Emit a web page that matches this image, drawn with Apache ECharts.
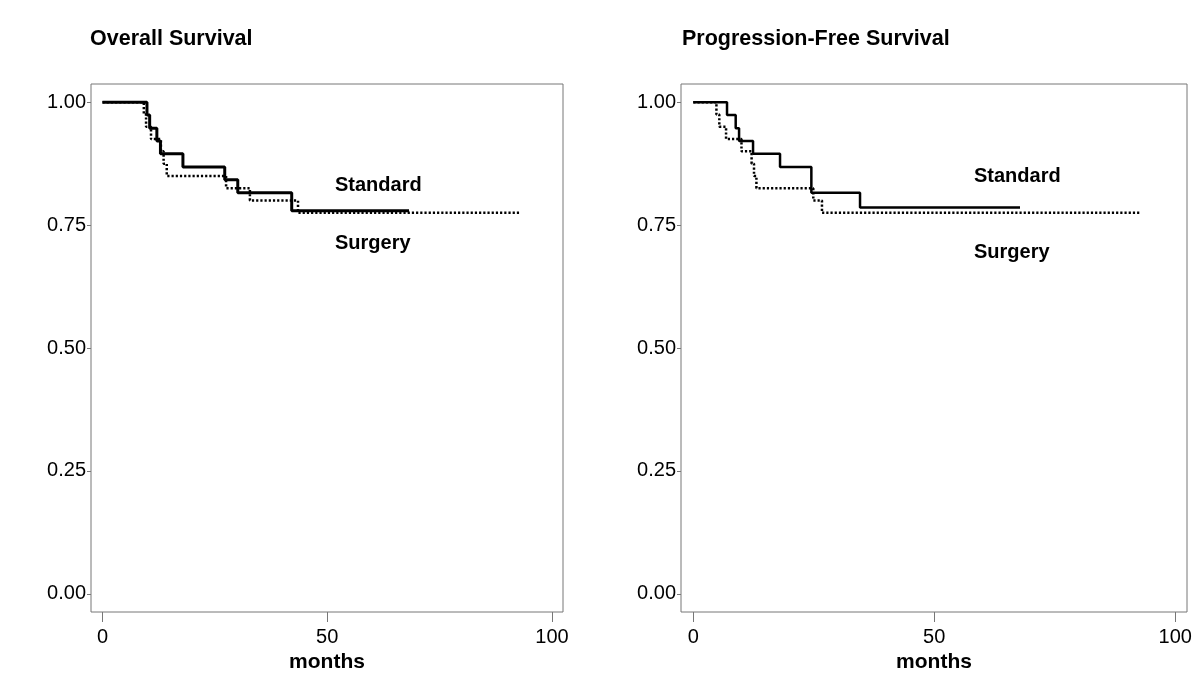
<!DOCTYPE html>
<html>
<head>
<meta charset="utf-8">
<script src="https://cdn.jsdelivr.net/npm/echarts@6/dist/echarts.min.js"></script>
<style>html,body{margin:0;padding:0;background:#fff}#c{width:1200px;height:700px}</style>
</head>
<body>
<div id="c"></div>
<script>
// ---- Data (months, survival probability) ----
const osStandardT = [0, 9.9, 10.5, 12.1, 12.9, 17.9, 27.2, 30.1, 42.1, 68.2];
const osStandardS = [1, 0.974, 0.947, 0.921, 0.895, 0.868, 0.842, 0.816, 0.779, 0.779];
const osSurgeryT = [0, 9.2, 9.7, 10.8, 13.0, 13.6, 14.3, 27.5, 32.8, 43.5, 92.7];
const osSurgeryS = [1, 0.975, 0.95, 0.925, 0.9, 0.875, 0.85, 0.825, 0.80, 0.775, 0.775];
const pfsStandardT = [0, 7.0, 8.8, 9.5, 12.4, 18.0, 24.5, 34.6, 67.8];
const pfsStandardS = [1, 0.974, 0.947, 0.921, 0.895, 0.868, 0.816, 0.786, 0.786];
const pfsSurgeryT = [0, 4.8, 5.4, 6.8, 10.0, 12.1, 12.6, 13.1, 24.9, 26.7, 92.8];
const pfsSurgeryS = [1, 0.975, 0.95, 0.925, 0.9, 0.875, 0.85, 0.825, 0.80, 0.775, 0.775];
const xTicks = [0, 50, 100];
const yTicks = [0, 0.25, 0.5, 0.75, 1];
const panelTitles = ['Overall Survival', 'Progression-Free Survival'];
const groupNames = ['Standard', 'Surgery'];
const xAxisName = 'months';

const pairs = (t, s) => t.map((v, i) => [v, s[i]]);
const FONT = "'Liberation Sans', Arial, sans-serif";
const GREY = '#777';

function xAxis(idx) {
  return {
    type: 'value', gridIndex: idx, min: -2.55, max: 102.45, position: 'bottom',
    axisLine: {show: false, onZero: false}, splitLine: {show: false},
    axisTick: {show: true, length: 10, lineStyle: {color: GREY}, customValues: xTicks},
    axisLabel: {color: '#000', fontSize: 20, fontFamily: FONT, margin: 15, customValues: xTicks},
    name: xAxisName, nameLocation: 'middle', nameGap: 36,
    nameTextStyle: {color: '#000', fontSize: 21, fontWeight: 'bold', fontFamily: FONT}
  };
}
function yAxis(idx) {
  return {
    type: 'value', gridIndex: idx, min: -0.037, max: 1.037, position: 'left',
    axisLine: {show: false, onZero: false}, splitLine: {show: false},
    axisTick: {show: true, length: 4, lineStyle: {color: GREY}, customValues: yTicks},
    axisLabel: {color: '#000', fontSize: 20, fontFamily: FONT, margin: 5,
      customValues: yTicks, formatter: v => v.toFixed(2)}
  };
}
function line(name, idx, data, dotted, width) {
  return {
    type: 'line', name, xAxisIndex: idx, yAxisIndex: idx, step: 'end',
    data, symbol: 'none', animation: false, silent: true,
    lineStyle: {color: '#000', width, type: dotted ? [2.2, 2] : 'solid', cap: 'butt'}
  };
}
const txt = (text, x, y) => ({type: 'text', left: x, top: y,
  style: {text, fill: '#000', font: 'bold 20px ' + FONT, textVerticalAlign: 'middle'}});

const chart = echarts.init(document.getElementById('c'), null, {renderer: 'canvas'});
chart.setOption({
  backgroundColor: '#fff',
  animation: false,
  grid: [
    {left: 91, top: 84, width: 472, height: 528, show: true, borderColor: GREY, borderWidth: 1, backgroundColor: 'transparent'},
    {left: 681, top: 84, width: 506, height: 528, show: true, borderColor: GREY, borderWidth: 1, backgroundColor: 'transparent'}
  ],
  xAxis: [xAxis(0), xAxis(1)],
  yAxis: [yAxis(0), yAxis(1)],
  series: [
    line(groupNames[1], 0, pairs(osSurgeryT, osSurgeryS), true, 2.5),
    line(groupNames[0], 0, pairs(osStandardT, osStandardS), false, 3),
    line(groupNames[1], 1, pairs(pfsSurgeryT, pfsSurgeryS), true, 2.5),
    line(groupNames[0], 1, pairs(pfsStandardT, pfsStandardS), false, 2.5)
  ],
  graphic: [
    {type: 'text', left: 90, top: 28, style: {text: panelTitles[0], fill: '#000', font: 'bold 21.5px ' + FONT}},
    {type: 'text', left: 682, top: 28, style: {text: panelTitles[1], fill: '#000', font: 'bold 21.5px ' + FONT}},
    txt(groupNames[0], 335, 175),
    txt(groupNames[1], 335, 233),
    txt(groupNames[0], 974, 166),
    txt(groupNames[1], 974, 242)
  ]
});
</script>
</body>
</html>
